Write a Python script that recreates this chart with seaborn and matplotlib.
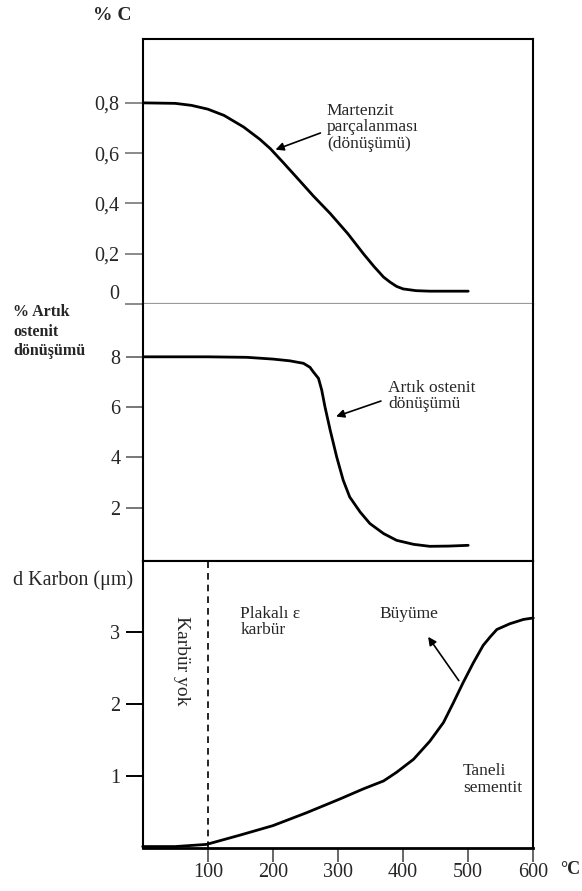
import matplotlib
matplotlib.use("Agg")
import matplotlib.pyplot as plt
import seaborn as sns
import pandas as pd

sns.set_style("white")
plt.rcParams['font.family'] = ['Liberation Serif', 'DejaVu Serif']

# ---- data ----
temp_c = [0, 50, 75, 100, 125, 155, 180, 196, 215, 236, 262, 288, 315, 339, 355, 370, 380, 390,
          400, 420, 441, 500]
pct_c = [0.80, 0.798, 0.79, 0.775, 0.75, 0.704, 0.655, 0.618, 0.565, 0.505, 0.43, 0.36, 0.28, 0.20,
         0.15, 0.107, 0.087, 0.07, 0.06, 0.053, 0.051, 0.051]

temp_a = [0, 100, 160, 200, 226, 247, 257, 262, 270, 275, 280, 288, 298, 308, 318, 334, 349,
          370, 390, 416, 441, 470, 500]
pct_a = [8.02, 8.02, 8.0, 7.93, 7.86, 7.76, 7.6, 7.42, 7.16, 6.69, 6.02, 5.09, 4.02, 3.09, 2.42,
         1.82, 1.36, 0.96, 0.69, 0.53, 0.45, 0.46, 0.49]

temp_d = [0, 50, 98, 150, 200, 252, 303, 339, 370, 390, 416, 441, 462, 477, 492, 508, 523, 534,
          544, 564, 585, 600]
d_karbon = [0.02, 0.02, 0.05, 0.18, 0.31, 0.49, 0.68, 0.82, 0.93, 1.05, 1.23, 1.48, 1.74, 2.01,
            2.29, 2.57, 2.81, 2.93, 3.03, 3.11, 3.17, 3.19]

ticks_c = [0, 0.2, 0.4, 0.6, 0.8]
ticklabels_c = ["0", "0,2", "0,4", "0,6", "0,8"]
ticks_a = [2, 4, 6, 8]
ticks_d = [1, 2, 3]
ticks_x = [100, 200, 300, 400, 500, 600]

df_c = pd.DataFrame({"T": temp_c, "v": pct_c})
df_a = pd.DataFrame({"T": temp_a, "v": pct_a})
df_d = pd.DataFrame({"T": temp_d, "v": d_karbon})

W, H = 582, 891
fig = plt.figure(figsize=(W / 100, H / 100), dpi=100)

left = 142.7 / W
right = 533.3 / W
def fy(px):
    return 1 - px / H

ax1 = fig.add_axes([left, fy(304), right - left, fy(39) - fy(304)])
ax2 = fig.add_axes([left, fy(561), right - left, fy(304) - fy(561)])
ax3 = fig.add_axes([left, fy(848), right - left, fy(561) - fy(848)])

lw_curve = 2.0
for ax, df in ((ax1, df_c), (ax2, df_a), (ax3, df_d)):
    sns.lineplot(data=df, x="T", y="v", ax=ax, color="black", lw=lw_curve,
                 sort=False, estimator=None)
    ax.set_xlim(0, 600)
    ax.set_xlabel("")
    ax.set_ylabel("")
    for s in ax.spines.values():
        s.set_color("black")
        s.set_linewidth(1.5)
    for line in ax.lines:
        line.set_solid_joinstyle("round")
        line.set_solid_capstyle("round")

# panel 1
ax1.set_ylim(0, 1.054)
ax1.set_yticks(ticks_c)
ax1.set_yticklabels(ticklabels_c)
ax1.set_xticks([])
ax1.spines["bottom"].set_color("#9a9a9a")
ax1.spines["bottom"].set_linewidth(1.6)
ax1.tick_params(axis="y", left=True, length=13, width=1.4, color="#8a8a8a", pad=4, labelsize=14.5)
ax1.get_yticklabels()[0].set_va("bottom")

# panel 2
ax2.set_ylim(-0.136, 10.13)
ax2.set_yticks(ticks_a)
ax2.set_xticks([])
ax2.spines["top"].set_visible(False)
ax2.tick_params(axis="y", left=True, length=12, width=1.4, color="#777777", pad=4, labelsize=14.5)

# panel 3
ax3.set_ylim(0, 3.98)
ax3.set_yticks(ticks_d)
ax3.set_xticks(ticks_x)
ax3.tick_params(axis="y", left=True, length=12, width=1.4, color="black", pad=4, labelsize=14.5)
ax3.tick_params(axis="x", bottom=True, length=10, width=1.4, color="#666666", pad=1, labelsize=14.5)
ax3.spines["bottom"].set_linewidth(2.0)
for line in ax3.lines:
    line.set_clip_on(False)
ax3.axvline(100, color="black", lw=1.2, ls=(0, (4, 3)))

# annotations
fs_ann = 12.5
ax1.text(283, 0.80, "Martenzit\nparçalanması\n(dönüşümü)", fontsize=fs_ann, va="top", ha="left",
         linespacing=1.05)
ax1.annotate("", xy=(200, 0.61), xytext=(277, 0.684),
             arrowprops=dict(arrowstyle="-|>", color="black", lw=1.2, mutation_scale=12))

ax2.text(377, 7.1, "Artık ostenit\ndönüşümü", fontsize=fs_ann, va="top", ha="left", linespacing=1.05)
ax2.annotate("", xy=(293, 5.6), xytext=(370, 6.29),
             arrowprops=dict(arrowstyle="-|>", color="black", lw=1.2, mutation_scale=12))

ax3.text(60, 2.59, "Karbür yok", fontsize=14, rotation=-90, va="center", ha="center")
ax3.text(150, 3.36, "Plakalı ε\nkarbür", fontsize=fs_ann, va="top", ha="left", linespacing=1.0)
ax3.text(364, 3.24, "Büyüme", fontsize=fs_ann, va="center", ha="left")
ax3.annotate("", xy=(436, 2.96), xytext=(488, 2.29),
             arrowprops=dict(arrowstyle="-|>", color="black", lw=1.2, mutation_scale=12))
ax3.text(492, 1.18, "Taneli\nsementit", fontsize=fs_ann, va="top", ha="left", linespacing=1.05)

# axis titles
fig.text(93 / W, fy(16), "% C", fontsize=14, fontweight="bold", va="center", ha="left")
fig.text(13 / W, fy(304), "% Artık\nostenit\ndönüşümü", fontsize=11.5, fontweight="bold",
         va="top", ha="left", linespacing=1.3)
fig.text(13 / W, fy(580), "d Karbon (μm)", fontsize=14.5, va="center", ha="left")
fig.text(560 / W, fy(869), "°C", fontsize=13, fontweight="bold", va="center", ha="left")

fig.savefig("out.png", dpi=100)
